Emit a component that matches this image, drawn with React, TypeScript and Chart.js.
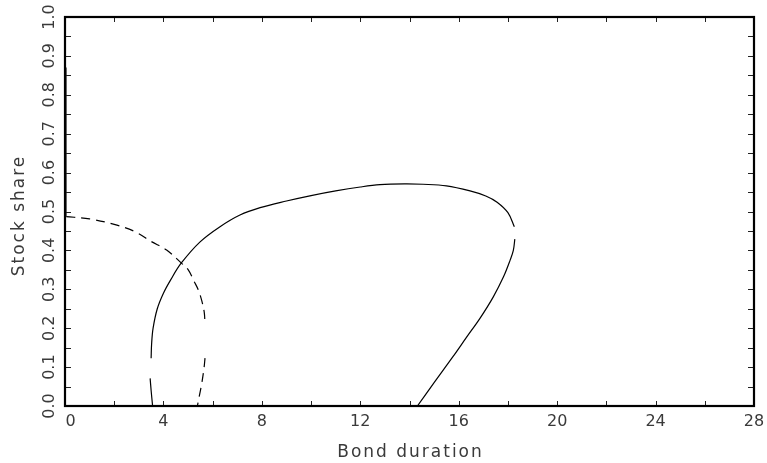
import React, { useEffect, useRef } from "react";
import { Chart, registerables } from "chart.js";

Chart.register(...registerables);

// Solid curve (null y = break in the drawn line)
const solidX = [3.56, 3.5, 3.46, 3.48, 3.5, 3.52, 3.58, 3.75, 4.0, 4.3, 4.72, 5.49, 6.3, 7.11, 7.93, 9.0, 10.0, 11.0, 12.0, 12.8, 13.8, 14.55, 15.5, 16.46, 17.1, 17.56, 18.0, 18.26, 18.27, 18.28, 18.22, 18.09, 17.82, 17.4, 16.87, 16.3, 15.78, 15.0, 14.32];
const solidY = [0.0, 0.04, 0.071, null, 0.123, 0.16, 0.2, 0.25, 0.29, 0.325, 0.367, 0.422, 0.461, 0.491, 0.51, 0.527, 0.541, 0.553, 0.563, 0.569, 0.571, 0.57, 0.566, 0.553, 0.54, 0.524, 0.497, 0.461, null, 0.429, 0.4, 0.375, 0.332, 0.28, 0.226, 0.175, 0.128, 0.06, 0.0];

// Dashed curve
const dashedX = [0.05, 1.0, 2.0, 2.85, 3.5, 4.13, 4.72, 5.01, 5.25, 5.42, 5.56, 5.66, 5.69, 5.7, 5.69, 5.65, 5.56, 5.45, 5.38];
const dashedY = [0.487, 0.481, 0.467, 0.448, 0.423, 0.401, 0.368, 0.35, 0.32, 0.298, 0.27, 0.24, 0.21, null, 0.123, 0.098, 0.059, 0.023, 0.0];

// Short solid segment along the left edge
const edgeX = [0.05, 0.05];
const edgeY = [0.487, 0.87];

const xMin = 0, xMax = 28, xStep = 4;
const yMin = 0, yMax = 1, yStep = 0.1;
const xTitle = "Bond duration";
const yTitle = "Stock share";

const toPoints = (xs: number[], ys: (number | null)[]) =>
  xs.map((x, i) => ({ x, y: ys[i] === null ? NaN : (ys[i] as number) }));

const TEXT = "#3a3a3a";
const FONT = '"DejaVu Sans", sans-serif';

const framePlugin = {
  id: "frame",
  afterDraw(chart: any) {
    const ctx = chart.ctx as CanvasRenderingContext2D;
    const { left, right, top, bottom } = chart.chartArea;
    const xs = chart.scales.x;
    const ys = chart.scales.y;
    ctx.save();
    // ticks
    ctx.strokeStyle = "#222";
    ctx.lineWidth = 1;
    const xVals: number[] = xs.ticks.map((t: any) => t.value);
    const yVals: number[] = ys.ticks.map((t: any) => t.value);
    const xAll: number[] = [];
    xVals.forEach((v, i) => {
      xAll.push(v);
      if (i < xVals.length - 1) xAll.push((v + xVals[i + 1]) / 2);
    });
    const yAll: number[] = [];
    yVals.forEach((v, i) => {
      yAll.push(v);
      if (i < yVals.length - 1) yAll.push((v + yVals[i + 1]) / 2);
    });
    ctx.beginPath();
    xAll.forEach((v) => {
      const px = Math.round(xs.getPixelForValue(v)) + 0.5;
      ctx.moveTo(px, bottom);
      ctx.lineTo(px, bottom - 5);
      ctx.moveTo(px, top);
      ctx.lineTo(px, top + 5);
    });
    yAll.forEach((v) => {
      const py = Math.round(ys.getPixelForValue(v)) + 0.5;
      ctx.moveTo(left, py);
      ctx.lineTo(left + 6, py);
      ctx.moveTo(right, py);
      ctx.lineTo(right - 6, py);
    });
    ctx.stroke();
    // frame
    ctx.strokeStyle = "#000";
    ctx.lineWidth = 2.2;
    ctx.strokeRect(left, top, right - left, bottom - top);

    // tick labels
    ctx.fillStyle = TEXT;
    ctx.font = `16px ${FONT}`;
    ctx.textBaseline = "middle";
    xVals.forEach((v, i) => {
      const px = xs.getPixelForValue(v);
      ctx.textAlign = i === 0 ? "left" : "center";
      ctx.fillText(String(Math.round(v)), i === 0 ? px + 0.5 : px, bottom + 16);
    });
    yVals.forEach((v) => {
      const py = ys.getPixelForValue(v);
      ctx.save();
      ctx.translate(50, py);
      ctx.rotate(-Math.PI / 2);
      ctx.textAlign = "center";
      ctx.fillText(v.toFixed(1), 0, 0);
      ctx.restore();
    });

    // titles
    ctx.font = `17px ${FONT}`;
    try {
      (ctx as any).letterSpacing = "2px";
    } catch (e) {}
    ctx.textAlign = "center";
    ctx.fillText(xTitle, (left + right) / 2 + 1, bottom + 47);
    ctx.save();
    ctx.translate(20, (top + bottom) / 2 + 4);
    ctx.rotate(-Math.PI / 2);
    ctx.fillText(yTitle, 0, 0);
    ctx.restore();
    ctx.restore();
  },
};

export default function App() {
  const ref = useRef<HTMLCanvasElement | null>(null);
  useEffect(() => {
    if (!ref.current) return;
    const common = {
      showLine: true,
      pointRadius: 0,
      borderColor: "#000",
      borderWidth: 1.2,
      spanGaps: false,
      fill: false,
      tension: 0.35,
    };
    const chart = new Chart(ref.current, {
      type: "scatter",
      data: {
        datasets: [
          { ...common, label: "solid", data: toPoints(solidX, solidY) },
          { ...common, label: "dashed", data: toPoints(dashedX, dashedY), borderDash: [9, 6] },
          { ...common, label: "edge", data: toPoints(edgeX, edgeY), borderColor: "#555", tension: 0 },
        ],
      },
      options: {
        animation: false,
        responsive: false,
        devicePixelRatio: 1,
        layout: { padding: { left: 65, top: 17, right: 13, bottom: 57 } },
        plugins: { legend: { display: false }, tooltip: { enabled: false } },
        scales: {
          x: { type: "linear", display: false, min: xMin, max: xMax, ticks: { stepSize: xStep } },
          y: { type: "linear", display: false, min: yMin, max: yMax, ticks: { stepSize: yStep } },
        },
      } as any,
      plugins: [framePlugin],
    });
    return () => chart.destroy();
  }, []);
  return (
    <div style={{ position: "fixed", left: 0, top: 0, width: 767, height: 463, background: "#fff" }}>
      <canvas ref={ref} width={767} height={463} style={{ width: 767, height: 463, display: "block" }} />
    </div>
  );
}
